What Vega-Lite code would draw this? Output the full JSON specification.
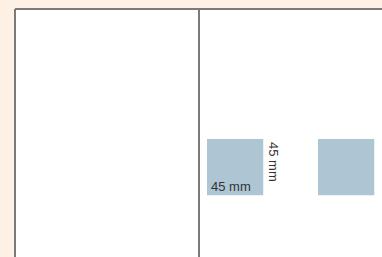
{
  "$schema": "https://vega.github.io/schema/vega-lite/v6.json",
  "autosize": {"type": "none"},
  "width": 367,
  "height": 248,
  "padding": {"left": 15, "top": 9, "right": 0, "bottom": 0},
  "background": "#fdf1e6",
  "config": {"view": {"fill": "white", "stroke": null}},
  "datasets": {
    "boxes": [
      {"name": "A", "x0": 153.6, "x1": 198.6, "y0": 104, "y1": 149},
      {"name": "B", "x0": 242.4, "x1": 287.4, "y0": 104, "y1": 149}
    ],
    "vlines": [{"pos": 0}, {"pos": 147.2}],
    "hlines": [{"pos": 0}],
    "labels": [
      {"label": "45 mm", "x": 153.6, "y": 149, "kind": "width"},
      {"label": "45 mm", "x": 198.6, "y": 104, "kind": "height"}
    ]
  },
  "layer": [
    {
      "data": {"name": "boxes"},
      "mark": {"type": "rect", "color": "#aec6d3"},
      "encoding": {
        "x": {"field": "x0", "type": "quantitative", "scale": {"domain": [0, 293.6], "nice": false, "zero": false}, "axis": null},
        "x2": {"field": "x1"},
        "y": {"field": "y0", "type": "quantitative", "scale": {"domain": [0, 198.4], "nice": false, "zero": false, "reverse": true}, "axis": null},
        "y2": {"field": "y1"}
      }
    },
    {
      "data": {"name": "vlines"},
      "mark": {"type": "rule", "color": "#7a7a7a", "strokeWidth": 2},
      "encoding": {
        "x": {"field": "pos", "type": "quantitative"}
      }
    },
    {
      "data": {"name": "hlines"},
      "mark": {"type": "rule", "color": "#7a7a7a", "strokeWidth": 2},
      "encoding": {
        "y": {"field": "pos", "type": "quantitative"}
      }
    },
    {
      "data": {"name": "labels"},
      "transform": [{"filter": "datum.kind == 'width'"}],
      "mark": {"type": "text", "align": "left", "baseline": "alphabetic", "dx": 4, "dy": -4, "fontSize": 13, "font": "Liberation Sans", "color": "#333333"},
      "encoding": {
        "x": {"field": "x", "type": "quantitative"},
        "y": {"field": "y", "type": "quantitative"},
        "text": {"field": "label"}
      }
    },
    {
      "data": {"name": "labels"},
      "transform": [{"filter": "datum.kind == 'height'"}],
      "mark": {"type": "text", "align": "left", "baseline": "alphabetic", "angle": 90, "dx": 3, "dy": -6, "fontSize": 13, "font": "Liberation Sans", "color": "#333333"},
      "encoding": {
        "x": {"field": "x", "type": "quantitative"},
        "y": {"field": "y", "type": "quantitative"},
        "text": {"field": "label"}
      }
    }
  ]
}
